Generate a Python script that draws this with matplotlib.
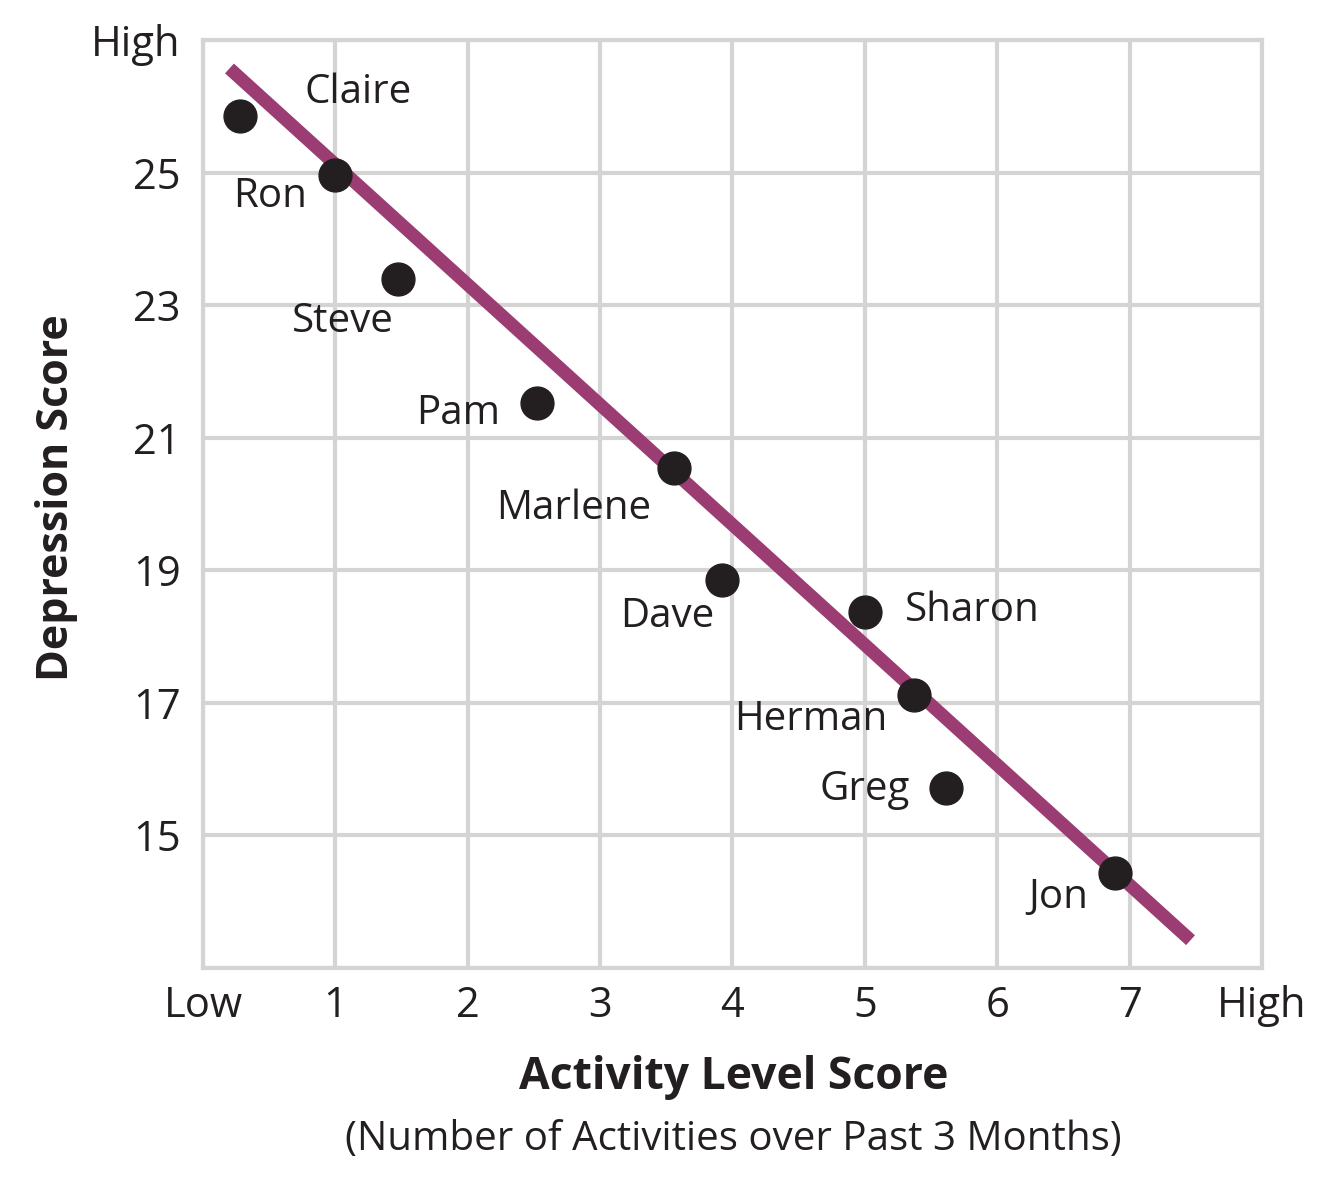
import matplotlib
matplotlib.use("Agg")
import matplotlib.pyplot as plt

plt.rcParams["font.family"] = ["Open Sans", "DejaVu Sans"]

names = ["Claire", "Ron", "Steve", "Pam", "Marlene", "Dave", "Sharon", "Herman", "Greg", "Jon"]
activity = [0.28, 1.0, 1.47, 2.52, 3.56, 3.92, 5.0, 5.37, 5.61, 6.89]
depression = [25.86, 24.97, 23.39, 21.53, 20.54, 18.85, 18.37, 17.12, 15.72, 14.43]
label_x = [1.17, 0.505, 1.06, 1.93, 2.80, 3.51, 5.81, 4.59, 5.00, 6.46]
label_y = [26.21, 24.63, 22.75, 21.36, 19.93, 18.30, 18.39, 16.74, 15.69, 14.06]
fit_x = [0.2, 7.46]
fit_y = [26.57, 13.42]

xticks = [0, 1, 2, 3, 4, 5, 6, 7, 8]
xtick_labels = ["Low", "1", "2", "3", "4", "5", "6", "7", "High"]
yticks = [13, 15, 17, 19, 21, 23, 25, 27]
ytick_labels = ["", "15", "17", "19", "21", "23", "25", "High"]

fig = plt.figure(figsize=(13.39, 12), dpi=100)
ax = fig.add_axes([0.1516, 0.1933, 0.7909, 0.7734])
ax.set_xlim(0, 8)
ax.set_ylim(13, 27)

ax.set_xticks(xticks)
ax.set_xticklabels(xtick_labels)
ax.set_yticks(yticks)
ax.set_yticklabels(ytick_labels)
ax.tick_params(length=0, labelsize=30, colors="#231f20", pad=12)
ax.tick_params(axis="y", pad=16)
ax.grid(True, color="#d4d4d4", lw=3)
ax.set_axisbelow(True)
for s in ax.spines.values():
    s.set_color("#d4d4d4")
    s.set_linewidth(3)

ax.plot(fit_x, fit_y, color="#9b3d72", lw=9.5, solid_capstyle="butt", zorder=2)
ax.scatter(activity, depression, s=560, color="#231f20", zorder=3)
for n, lx, ly in zip(names, label_x, label_y):
    ax.text(lx, ly, n, ha="center", va="center", fontsize=29, color="#231f20", zorder=4)

fig.text(0.042, 0.585, "Depression Score", rotation=90, ha="center", va="center",
         fontsize=31, fontweight="bold", color="#231f20")
fig.text(0.548, 0.102, "Activity Level Score", ha="center", va="center",
         fontsize=32, fontweight="bold", color="#231f20")
fig.text(0.548, 0.05, "(Number of Activities over Past 3 Months)", ha="center", va="center",
         fontsize=29, color="#231f20")

fig.savefig("out.png", dpi=100)
